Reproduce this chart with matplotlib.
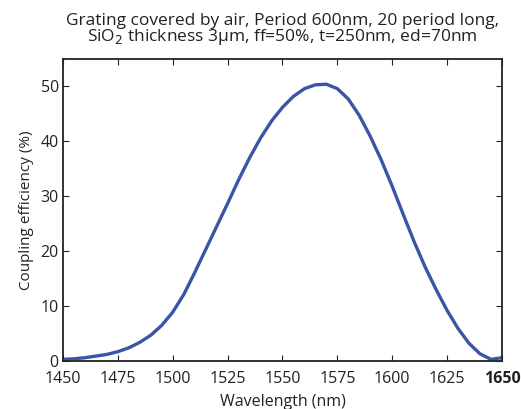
import matplotlib
matplotlib.use("Agg")
import matplotlib.pyplot as plt

wavelength = [1450, 1455, 1460, 1465, 1470, 1475, 1480, 1485, 1490, 1495,
              1500, 1505, 1510, 1515, 1520, 1525, 1530, 1535, 1540, 1545,
              1550, 1555, 1560, 1565, 1570, 1575, 1580, 1585, 1590, 1595,
              1600, 1605, 1610, 1615, 1620, 1625, 1630, 1635, 1640, 1645, 1650]
efficiency = [0.3, 0.4, 0.6, 0.9, 1.2, 1.7, 2.4, 3.4, 4.7, 6.5,
              8.9, 12.1, 16.1, 20.3, 24.5, 28.7, 33.0, 37.0, 40.6, 43.7,
              46.2, 48.2, 49.6, 50.3, 50.4, 49.6, 47.7, 44.7, 40.9, 36.6,
              31.8, 26.7, 21.7, 17.1, 13.0, 9.2, 5.9, 3.2, 1.3, 0.3, 0.6]
xticks = [1450, 1475, 1500, 1525, 1550, 1575, 1600, 1625, 1650]
yticks = [0, 10, 20, 30, 40, 50]

plt.rcParams['font.family'] = ['Open Sans', 'DejaVu Sans']

fig = plt.figure(figsize=(5.21, 4.09), dpi=100)
ax = fig.add_axes([63/521, 1-361/409, (502-63)/521, (361-59)/409])
ax.plot(wavelength, efficiency, color='#3a55a8', lw=2.4,
        solid_capstyle='round', solid_joinstyle='round')
ax.set_xlim(1450, 1650)
ax.set_ylim(0, 55)
ax.set_xticks(xticks)
ax.set_yticks(yticks)
ax.tick_params(direction='in', top=True, right=True, length=4, width=0.8,
               labelsize=11.5, pad=3, colors='#222222')
ax.tick_params(axis='x', pad=7)
labels = ax.get_xticklabels()
labels[-1].set_fontweight('bold')
for s in ax.spines.values():
    s.set_linewidth(1.3)
    s.set_color('#222222')
ax.set_xlabel('Wavelength (nm)', fontsize=11.5, labelpad=5, color='#222222')
ax.set_ylabel('Coupling efficiency (%)', fontsize=11, labelpad=5, color='#222222')
ax.set_title('Grating covered by air, Period 600nm, 20 period long,\n'
             'SiO$_2$ thickness 3\u03bcm, ff=50%, t=250nm, ed=70nm',
             fontsize=12.5, linespacing=0.88, pad=13, color='#222222')
fig.savefig('out.png', dpi=100)
